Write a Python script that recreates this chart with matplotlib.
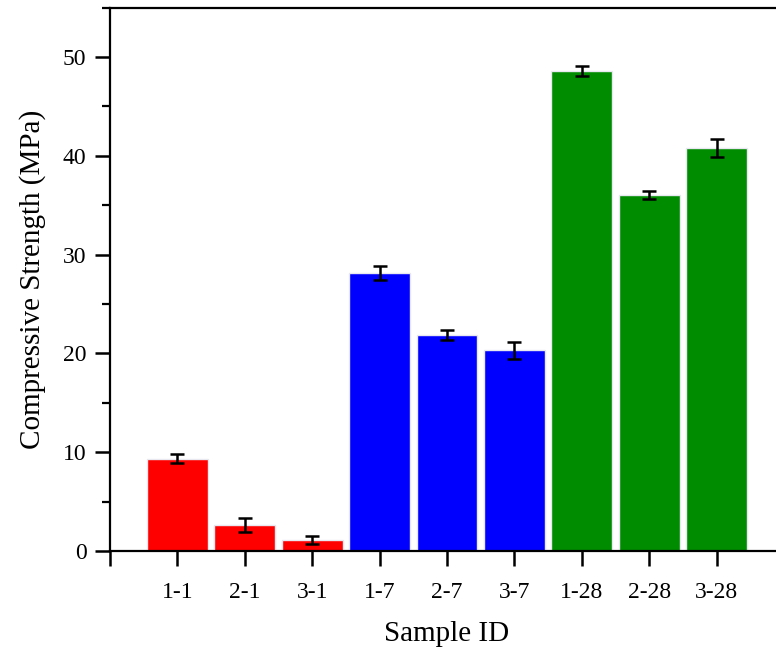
import numpy as np
import matplotlib
matplotlib.use("Agg")
import matplotlib.pyplot as plt
from matplotlib.ticker import MultipleLocator

plt.rcParams['font.family'] = ['Liberation Serif', 'DejaVu Serif']

# sample ids and measured strength (MPa)
samples = ["1-1", "2-1", "3-1", "1-7", "2-7", "3-7", "1-28", "2-28", "3-28"]
strength = [9.35, 2.65, 1.15, 28.15, 21.85, 20.3, 48.6, 36.05, 40.8]
errors = [0.42, 0.72, 0.40, 0.72, 0.54, 0.87, 0.50, 0.40, 0.90]
colors = ["#FF0000"] * 3 + ["#0000FF"] * 3 + ["#008C00"] * 3

fig = plt.figure(figsize=(7.76, 6.5), dpi=100)
# axes runs past the right edge of the image like in the original
ax = fig.add_axes([110 / 776, 99 / 650, 674 / 776, 543.5 / 650])

x = np.arange(1, len(samples) + 1)
ax.bar(x, strength, width=0.9, color=colors, edgecolor="#E8E8F0", linewidth=1.0, zorder=2)
ax.errorbar(x, strength, yerr=errors, fmt="none", ecolor="black",
            elinewidth=1.8, capsize=4.8, capthick=1.8, zorder=3)

ax.set_xlim(0, 10)
ax.set_ylim(0, 55)
ax.set_xticks(np.arange(0, len(samples) + 1))
ax.set_xticklabels([""] + samples)
ax.yaxis.set_major_locator(MultipleLocator(10))
ax.yaxis.set_minor_locator(MultipleLocator(5))

ax.spines["right"].set_visible(False)
for s in ["left", "bottom", "top"]:
    ax.spines[s].set_linewidth(1.6)

ax.tick_params(axis="both", which="major", direction="out", length=11, width=1.8,
               labelsize=17, pad=6)
ax.tick_params(axis="y", which="minor", direction="out", length=5.5, width=1.6)
ax.tick_params(axis="x", pad=11)

ax.set_xlabel("Sample ID", fontsize=21, labelpad=13)
ax.set_ylabel("Compressive Strength (MPa)", fontsize=21, labelpad=12)

fig.savefig("out.png", dpi=100)
